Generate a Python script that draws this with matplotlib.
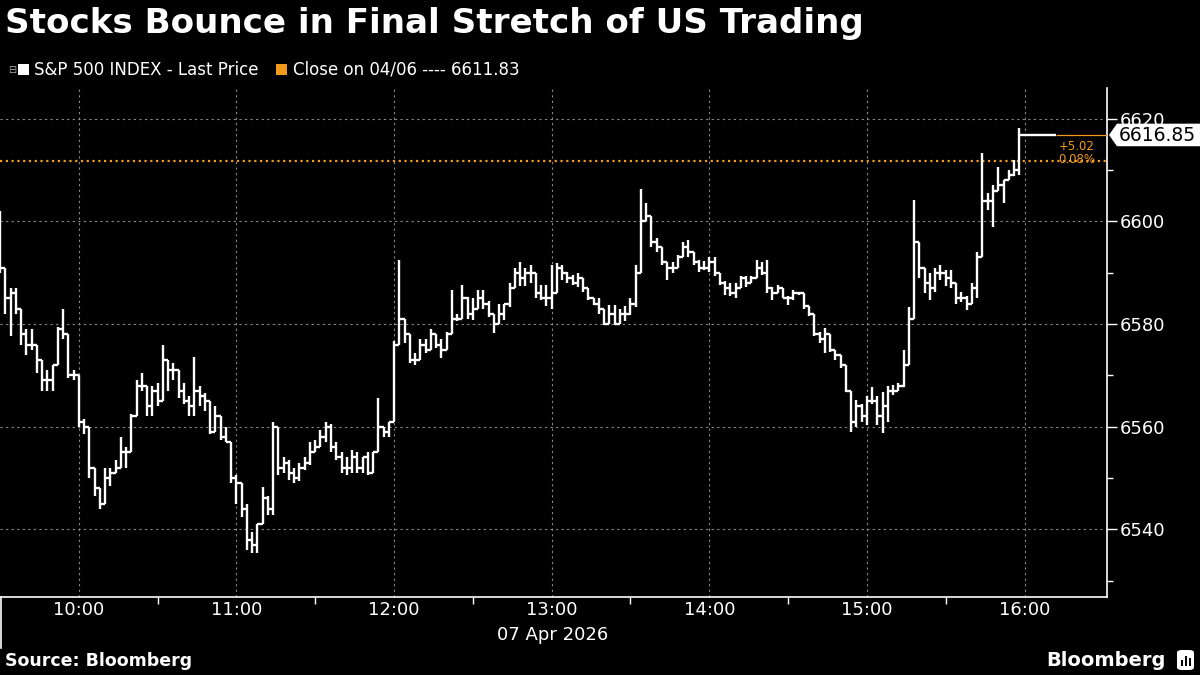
import numpy as np
import matplotlib
matplotlib.use('Agg')
import matplotlib.pyplot as plt
from matplotlib.patches import Rectangle, FancyBboxPatch, Polygon
from matplotlib.lines import Line2D

# 2-minute bars of the S&P 500 on 07 Apr 2026, starting 09:30
bar_minutes = 2
hi = [6602, 6587, 6587, 6587, 6581, 6579, 6579, 6576, 6572, 6571,
      6572, 6579.5, 6583, 6576, 6571, 6566, 6561.5, 6559, 6552, 6547,
      6552, 6552, 6553.5, 6558, 6556, 6562.5, 6569, 6570.5, 6568, 6568,
      6568.5, 6576, 6573, 6572.5, 6571, 6568.5, 6566, 6573.6, 6568, 6566.5,
      6565, 6564, 6561.5, 6560, 6557, 6550.6, 6546, 6545, 6539.5, 6541,
      6548.3, 6546.5, 6561, 6560, 6554, 6553.5, 6552, 6553, 6554, 6557,
      6557.4, 6559.4, 6561, 6560.5, 6557, 6555, 6554, 6555.4, 6555, 6554,
      6555, 6555, 6565.5, 6560, 6561, 6576.6, 6592.5, 6581, 6578, 6574.3,
      6577, 6577, 6579, 6578, 6577, 6578.5, 6586.6, 6582, 6587.6, 6585.3,
      6585, 6586.6, 6586.6, 6584.4, 6582, 6584, 6584, 6588, 6591, 6592,
      6590.9, 6591.5, 6588, 6587.6, 6587.6, 6591.5, 6591.9, 6591.5, 6590.2, 6589.6,
      6590, 6588.5, 6587, 6585, 6585, 6582.1, 6583.7, 6583.7, 6583, 6583.5,
      6585, 6591.5, 6606.3, 6603.6, 6600.6, 6596.7, 6594.5, 6592, 6592, 6593.5,
      6596, 6596.3, 6594, 6592.5, 6592.2, 6593, 6593, 6589.3, 6588.3, 6588,
      6588, 6589.3, 6589.3, 6589.3, 6592.5, 6592, 6592.5, 6587.3, 6587.6, 6586.3,
      6585.4, 6586.6, 6586.3, 6586, 6583.4, 6581.5, 6578.5, 6579.2, 6578, 6575,
      6574, 6572, 6566.8, 6565.2, 6564.5, 6566, 6567.8, 6566, 6566.8, 6568,
      6568.1, 6568.5, 6575, 6583.4, 6604.2, 6595.7, 6590.6, 6590, 6591, 6591.5,
      6590.5, 6590.5, 6588, 6586.3, 6585.4, 6588, 6594, 6613.3, 6605.5, 6607,
      6610.7, 6608, 6610, 6612, 6618.2]
lo = [6590, 6582, 6577.6, 6582, 6576, 6574, 6575, 6570.5, 6567, 6567,
      6567, 6572, 6577, 6569.5, 6569, 6560, 6558.5, 6550, 6546.5, 6544,
      6548, 6548.5, 6551, 6553, 6552, 6555, 6562, 6567, 6562, 6562,
      6564, 6566.5, 6567, 6569, 6565.5, 6564.5, 6562, 6562, 6564, 6563,
      6558.5, 6559, 6557.4, 6557, 6549, 6545, 6542.4, 6536, 6535.3, 6535.3,
      6541, 6542.8, 6542.8, 6550.5, 6551, 6549.6, 6549, 6549.5, 6551.6, 6552.5,
      6555.5, 6556, 6557, 6555, 6553.5, 6551, 6550.6, 6551, 6551, 6550.9,
      6550.6, 6552, 6556, 6558, 6558, 6564, 6577, 6576.3, 6572.4, 6572,
      6573, 6574.3, 6575, 6575.3, 6573.3, 6575.6, 6578.5, 6580.5, 6583, 6581,
      6580.8, 6583, 6583, 6581.4, 6578.2, 6581, 6580.8, 6583.4, 6587, 6587.5,
      6587.5, 6588, 6585, 6584.7, 6583.5, 6583, 6588.6, 6588.6, 6588, 6587.6,
      6587.3, 6586.3, 6584.7, 6583.7, 6582, 6579.8, 6580.5, 6579.8, 6580, 6580.5,
      6581.8, 6583.4, 6591, 6600.6, 6595, 6594, 6591.5, 6588.6, 6590, 6591.5,
      6593.5, 6593, 6591.5, 6590.2, 6590.5, 6590.2, 6589.3, 6587.6, 6585.7, 6585.5,
      6585, 6587, 6587.3, 6588, 6589, 6589.5, 6586, 6584.7, 6586.3, 6585,
      6583.7, 6584.7, 6585.7, 6583, 6581.5, 6577.6, 6576.3, 6574.3, 6574.5, 6573,
      6571.4, 6566.8, 6559, 6560, 6561, 6560.3, 6564.5, 6560.3, 6558.7, 6561,
      6566.2, 6567, 6567.8, 6573.3, 6581, 6589, 6586, 6584.7, 6586.3, 6588.6,
      6587.5, 6587, 6584, 6584.3, 6582.8, 6585.4, 6585, 6593, 6602.3, 6599,
      6606.5, 6603.6, 6608, 6608.8, 6609]
cl = [6591, 6585, 6586, 6583, 6578, 6576, 6576, 6573, 6569, 6569,
      6572, 6579, 6578, 6570, 6570, 6561, 6560, 6552, 6548, 6545,
      6550, 6551, 6552, 6555, 6555, 6562, 6568, 6568, 6564, 6567,
      6565, 6573, 6571, 6571, 6567, 6565, 6564, 6567, 6566, 6565,
      6559, 6562, 6558, 6557, 6550, 6549, 6544, 6538, 6537, 6541,
      6546, 6544, 6560, 6552, 6553, 6551, 6550, 6552, 6553, 6555,
      6556, 6558, 6560, 6556, 6554, 6552, 6552, 6554, 6552, 6554,
      6551, 6555, 6560, 6559, 6561, 6576, 6581, 6578, 6573, 6573,
      6576, 6575, 6578, 6576, 6575, 6578, 6581, 6581, 6585, 6582,
      6583, 6585, 6584, 6582, 6580, 6582, 6584, 6587, 6590, 6589,
      6590, 6590, 6586, 6585, 6585, 6586, 6591, 6590, 6589, 6588,
      6589, 6587, 6585, 6584, 6583, 6580, 6582, 6580, 6582, 6582,
      6584, 6590, 6600, 6601, 6596, 6595, 6592, 6591, 6591, 6593,
      6595, 6594, 6592, 6591, 6591, 6592, 6590, 6588, 6587, 6586,
      6587, 6589, 6588, 6589, 6591, 6590, 6587, 6586, 6587, 6585,
      6585, 6586, 6586, 6583.5, 6582, 6578, 6577, 6578, 6575, 6574,
      6572, 6567, 6561, 6564, 6562, 6565, 6565, 6562, 6564, 6567,
      6567, 6568, 6572, 6581, 6596, 6591, 6588, 6587, 6590, 6590,
      6589, 6588, 6585, 6585, 6584, 6587, 6593, 6604, 6604, 6606,
      6607, 6608, 6609, 6610, 6616.85]

prev_close = 6611.83
last = cl[-1]
hour_labels = ['10:00', '11:00', '12:00', '13:00', '14:00', '15:00', '16:00']
hour_pos = [30, 90, 150, 210, 270, 330, 390]   # minutes after 09:30
y_ticks = [6540, 6560, 6580, 6600, 6620]

ORANGE = '#f29a1a'
GRID = '#8a8a8a'

fig = plt.figure(figsize=(12, 6.75), dpi=100, facecolor='black')
ax = fig.add_axes([0, 1 - 597 / 675, 1107 / 1200, (597 - 88) / 675])
ax.set_facecolor('black')

t = np.arange(len(cl)) * bar_minutes
hi_a = np.array(hi)
lo_a = np.array(lo)
cl_a = np.array(cl)
pc = np.r_[cl_a[0], cl_a[:-1]]
top = np.maximum.reduce([hi_a, pc, cl_a])
bot = np.minimum.reduce([lo_a, pc, cl_a])

ax.vlines(t, bot, top, color='white', lw=1.7, zorder=3)
ax.hlines(cl_a, t, t + bar_minutes, color='white', lw=1.7, zorder=3)

xmax = 1107 / 2.627
# previous close line
ax.axhline(prev_close, color=ORANGE, lw=1.6, linestyle=(0, (1, 1.6)), zorder=2)
# last price leader
ax.hlines(last, t[-1] + bar_minutes, 402, color='white', lw=1.7, zorder=3)
ax.hlines(last, 402, xmax, color=ORANGE, lw=0.9, zorder=3)
ax.text(403, last - 1.0, '+5.02', color=ORANGE, fontsize=8.5, va='top', ha='left')
ax.text(403, prev_close + 0.2, '0.08%', color=ORANGE, fontsize=8.5, va='center', ha='left')

ax.set_xlim(0, xmax)
ax.set_ylim(6526.8, 6626.0)

ax.set_xticks(hour_pos)
ax.set_xticklabels(hour_labels)
ax.set_xticks([60, 120, 180, 240, 300, 360], minor=True)
ax.yaxis.tick_right()
ax.set_yticks(y_ticks)
ax.set_yticks([6530, 6550, 6570, 6590, 6610], minor=True)
ax.tick_params(axis='x', which='major', length=0, pad=3, labelsize=13, colors='white')
ax.tick_params(axis='x', which='minor', length=5, width=1, color='white')
ax.tick_params(axis='y', which='major', length=7, width=1, pad=2, labelsize=13,
               colors='white', direction='out')
ax.tick_params(axis='y', which='minor', length=4, width=1, color='white')

ax.grid(True, which='major', color=GRID, lw=0.8, linestyle=(0, (2, 3)))
for s in ['top', 'left']:
    ax.spines[s].set_visible(False)
for s in ['bottom', 'right']:
    ax.spines[s].set_color('white')
    ax.spines[s].set_linewidth(1.2)

# last price tag: arrow-shaped white box on the right axis
ytr = ax.get_yaxis_transform()
half = 2.2   # half height of the tag in price units (~11 px)
tag = Polygon([(1.0018, last), (1.009, last + half), (1.09, last + half),
               (1.09, last - half), (1.009, last - half)],
              closed=True, transform=ytr, clip_on=False, fc='white', ec='none', zorder=6)
ax.add_patch(tag)
ax.text(1.0105, last - 0.15, '6616.85', transform=ytr, va='center', ha='left',
        fontsize=13.5, color='black', clip_on=False, zorder=7)

# day separator under the axis
fig.add_artist(Line2D([0.0008, 0.0008], [1 - 597 / 675, 1 - 648 / 675], color='white', lw=1.2))
fig.text(553 / 1200, 1 - 635 / 675, '07 Apr 2026', color='white', fontsize=13,
         ha='center', va='center')

# title and legend
fig.text(5 / 1200, 1 - 24 / 675, 'Stocks Bounce in Final Stretch of US Trading',
         color='white', fontsize=24.6, fontweight='bold', va='center', ha='left')
fig.text(8 / 1200, 1 - 70 / 675, '⊟', color='#aaaaaa', fontsize=7, va='center', ha='left')
fig.add_artist(Rectangle((18 / 1200, 1 - 75 / 675), 11 / 1200, 11 / 675,
                         transform=fig.transFigure, fc='white', ec='none'))
fig.text(34 / 1200, 1 - 70 / 675, 'S&P 500 INDEX - Last Price', color='white',
         fontsize=12, va='center', ha='left')
fig.add_artist(Rectangle((276 / 1200, 1 - 75 / 675), 11 / 1200, 11 / 675,
                         transform=fig.transFigure, fc=ORANGE, ec='none'))
fig.text(293 / 1200, 1 - 70 / 675, 'Close on 04/06 ---- 6611.83', color='white',
         fontsize=12, va='center', ha='left')

# footer
fig.text(5 / 1200, 1 - 661 / 675, 'Source: Bloomberg', color='white', fontsize=12.5,
         fontweight='bold', va='center', ha='left')
fig.text(1166 / 1200, 1 - 660 / 675, 'Bloomberg', color='white', fontsize=14,
         fontweight='bold', va='center', ha='right')
fig.add_artist(FancyBboxPatch((1177 / 1200, 1 - 670 / 675), 17 / 1200, 20 / 675,
                              boxstyle='round,pad=0,rounding_size=0.004',
                              transform=fig.transFigure, fc='white', ec='none'))
for i, h in enumerate([6, 10, 8]):
    fig.add_artist(Rectangle(((1181 + i * 4) / 1200, 1 - 666 / 675), 2 / 1200, h / 675,
                             transform=fig.transFigure, fc='black', ec='none'))

fig.savefig('out.png', dpi=100, facecolor='black')
